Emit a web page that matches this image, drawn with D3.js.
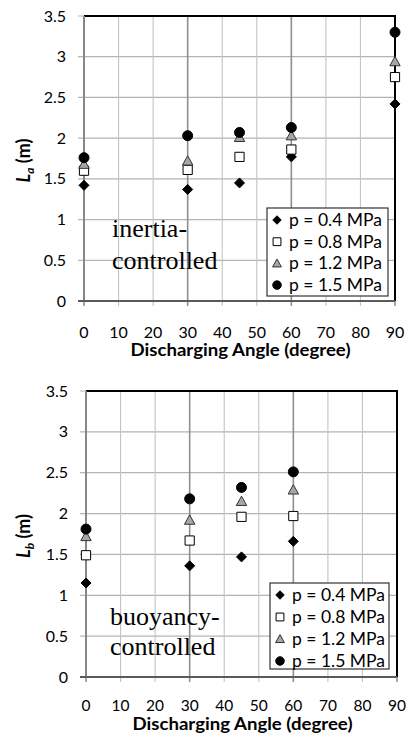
<!DOCTYPE html>
<html><head><meta charset="utf-8">
<script src="https://cdn.jsdelivr.net/npm/d3@7/dist/d3.min.js"></script>
<style>
html,body{margin:0;padding:0;background:#fff;}
svg{display:block;}
</style></head>
<body>
<svg id="chart" width="406" height="733"></svg>
<script>
// ---- data ----
const seriesNames = ["p = 0.4 MPa", "p = 0.8 MPa", "p = 1.2 MPa", "p = 1.5 MPa"];
const anglesA = [0, 30, 45, 60, 90];
const La_p04 = [1.42, 1.37, 1.45, 1.77, 2.42];
const La_p08 = [1.60, 1.61, 1.77, 1.86, 2.75];
const La_p12 = [1.68, 1.72, 2.01, 2.03, 2.94];
const La_p15 = [1.76, 2.03, 2.07, 2.13, 3.30];

const anglesB = [0, 30, 45, 60];
const Lb_p04 = [1.15, 1.36, 1.47, 1.66];
const Lb_p08 = [1.49, 1.67, 1.96, 1.97];
const Lb_p12 = [1.72, 1.92, 2.15, 2.29];
const Lb_p15 = [1.81, 2.18, 2.32, 2.51];

const xTicks = [0, 10, 20, 30, 40, 50, 60, 70, 80, 90];
const xMajor = [0, 30, 60, 90];
const yTicks = [0, 0.5, 1, 1.5, 2, 2.5, 3, 3.5];
const xTitle = "Discharging Angle (degree)";

// ---- styles ----
const markerStyles = [
  {type: "diamond", fill: "#000", stroke: "#000", size: 5},
  {type: "square", fill: "#fff", stroke: "#000", size: 4.6},
  {type: "triangle", fill: "#a6a6a6", stroke: "#333", size: 5.2},
  {type: "circle", fill: "#000", stroke: "#000", size: 5}
];
function markerPath(type, s) {
  switch (type) {
    case "diamond": return `M0,${-s}L${s},0L0,${s}L${-s},0Z`;
    case "square": return `M${-s},${-s}H${s}V${s}H${-s}Z`;
    case "triangle": return `M0,${-s}L${s},${s*0.8}H${-s}Z`;
    default: return `M${s},0A${s},${s} 0 1,1 ${-s},0A${s},${s} 0 1,1 ${s},0Z`;
  }
}

const svg = d3.select("#chart");
const sansFont = "Lato, 'Open Sans', sans-serif";

function drawPanel(cfg) {
  const g = svg.append("g");
  const x = d3.scaleLinear().domain([0, 90]).range([cfg.left, cfg.right]);
  const y = d3.scaleLinear().domain([0, 3.5]).range([cfg.bottom, cfg.top]);

  // horizontal gridlines (with outside ticks)
  g.selectAll(".hg").data(yTicks).enter().append("line")
    .attr("x1", cfg.left - 6).attr("x2", cfg.right)
    .attr("y1", d => y(d)).attr("y2", d => y(d))
    .attr("stroke", "#b3b3b3").attr("stroke-width", 1.2);
  // vertical gridlines
  g.selectAll(".vg").data(xTicks).enter().append("line")
    .attr("x1", d => x(d)).attr("x2", d => x(d))
    .attr("y1", cfg.top).attr("y2", cfg.bottom + 5)
    .attr("stroke", d => xMajor.includes(d) ? "#8f8f8f" : "#c4c4c4")
    .attr("stroke-width", d => xMajor.includes(d) ? 1.6 : 1.1);

  // frame: top and right black
  g.append("path")
    .attr("d", `M${cfg.left},${cfg.top}H${cfg.right}V${cfg.bottom}`)
    .attr("fill", "none").attr("stroke", "#000").attr("stroke-width", 2);
  // left axis line
  g.append("line").attr("x1", cfg.left).attr("x2", cfg.left)
    .attr("y1", cfg.top).attr("y2", cfg.bottom)
    .attr("stroke", "#878787").attr("stroke-width", 2);
  // bottom axis line
  g.append("line").attr("x1", cfg.left - 6).attr("x2", cfg.right)
    .attr("y1", cfg.bottom).attr("y2", cfg.bottom)
    .attr("stroke", "#5a5a5a").attr("stroke-width", 2);

  // y tick labels
  g.selectAll(".yl").data(yTicks).enter().append("text")
    .attr("x", cfg.left - 18).attr("y", d => y(d) + 5.5)
    .attr("text-anchor", "end").attr("font-family", sansFont)
    .attr("font-size", 16).attr("fill", "#000").text(d => d);
  // x tick labels
  g.selectAll(".xl").data(xTicks).enter().append("text")
    .attr("x", d => x(d)).attr("y", cfg.xLabelY)
    .attr("text-anchor", "middle").attr("font-family", sansFont)
    .attr("font-size", cfg.xLabelSize).attr("fill", "#000").text(d => d);
  // x title
  g.append("text").attr("x", (cfg.left + cfg.right) / 2 + 1).attr("y", cfg.xTitleY)
    .attr("text-anchor", "middle").attr("font-family", sansFont)
    .attr("font-weight", "bold").attr("font-size", 16.5).attr("fill", "#000")
    .attr("textLength", 220).attr("lengthAdjust", "spacingAndGlyphs")
    .text(xTitle);
  // y title
  const yt = g.append("text")
    .attr("transform", `translate(${cfg.yTitleX},${(cfg.top + cfg.bottom) / 2 + 2}) rotate(-90)`)
    .attr("text-anchor", "middle").attr("font-family", sansFont)
    .attr("font-weight", "bold").attr("font-size", 18).attr("fill", "#000");
  yt.append("tspan").attr("font-style", "italic").text("L");
  yt.append("tspan").attr("font-style", "italic").attr("font-size", 12)
    .attr("dy", 4).text(cfg.sub);
  yt.append("tspan").attr("dy", -4).text(" (m)");

  // annotation text
  const ann = g.append("text").attr("font-family", "'Liberation Serif', 'Times New Roman', serif")
    .attr("font-size", 26).attr("fill", "#000");
  ann.append("tspan").attr("x", cfg.annX).attr("y", cfg.annY1).text(cfg.ann[0]);
  ann.append("tspan").attr("x", cfg.annX).attr("y", cfg.annY2).text(cfg.ann[1]);

  // data markers (later series drawn on top)
  cfg.series.forEach((vals, i) => {
    const st = markerStyles[i];
    g.selectAll(null).data(vals.map((v, j) => [cfg.angles[j], v])).enter().append("path")
      .attr("transform", d => `translate(${x(d[0])},${y(d[1])})`)
      .attr("d", markerPath(st.type, st.size))
      .attr("fill", st.fill).attr("stroke", st.stroke).attr("stroke-width", 1);
  });

  // legend
  const lg = g.append("g");
  lg.append("rect").attr("x", cfg.legX).attr("y", cfg.legY)
    .attr("width", cfg.legW).attr("height", cfg.legH)
    .attr("fill", "#fff").attr("stroke", "#333").attr("stroke-width", 1.2);
  seriesNames.forEach((name, i) => {
    const st = markerStyles[i];
    const cy = cfg.legY + 12 + i * cfg.legStep;
    lg.append("path").attr("transform", `translate(${cfg.legX + 10},${cy})`)
      .attr("d", markerPath(st.type, st.size * 0.85))
      .attr("fill", st.fill).attr("stroke", st.stroke).attr("stroke-width", 1);
    lg.append("text").attr("x", cfg.legX + 22).attr("y", cy + 6)
      .attr("font-family", sansFont).attr("font-size", 17.5).attr("fill", "#000")
      .text(name);
  });
}

drawPanel({
  left: 84, right: 395, top: 16, bottom: 301,
  xLabelY: 338, xLabelSize: 16, xTitleY: 356, yTitleX: 30, sub: "a",
  ann: ["inertia-", "controlled"], annX: 112, annY1: 237, annY2: 269,
  angles: anglesA, series: [La_p04, La_p08, La_p12, La_p15],
  legX: 267, legY: 208, legW: 121, legH: 88, legStep: 21.7
});
drawPanel({
  left: 86, right: 397, top: 391, bottom: 677,
  xLabelY: 711, xLabelSize: 15.5, xTitleY: 730, yTitleX: 30, sub: "b",
  ann: ["buoyancy-", "controlled"], annX: 110, annY1: 625, annY2: 655,
  angles: anglesB, series: [Lb_p04, Lb_p08, Lb_p12, Lb_p15],
  legX: 270, legY: 583, legW: 119, legH: 86, legStep: 22
});
</script>
</body></html>
